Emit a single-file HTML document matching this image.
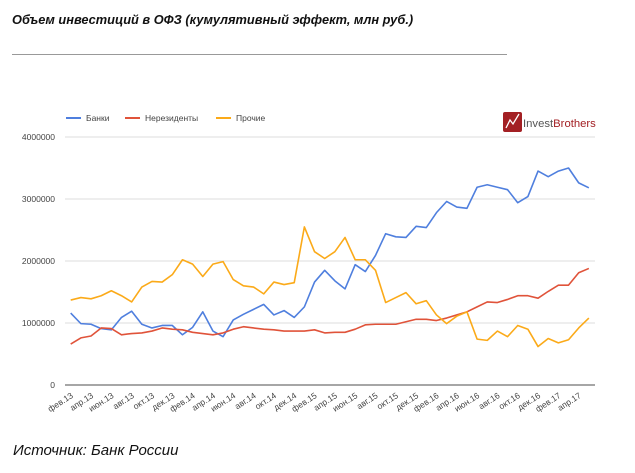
<!DOCTYPE html>
<html><head><meta charset="utf-8"><style>
body{margin:0;background:#fff;width:635px;height:473px;overflow:hidden;position:relative;font-family:"Liberation Sans",Arial,sans-serif}
#title{position:absolute;left:12px;top:12px;font-size:12.8px;font-weight:bold;font-style:italic;color:#111}
#rule{position:absolute;left:12px;top:54px;width:495px;height:1px;background:#999}
#src{position:absolute;left:13px;top:442px;font-size:15px;font-style:italic;color:#111}
svg{position:absolute;left:0;top:0}
</style></head><body>
<div id="title">Объем инвестиций в ОФЗ (кумулятивный эффект, млн руб.)</div>
<div id="rule"></div>
<svg id="chart" width="635" height="473"></svg>
<div id="src">Источник: Банк России</div>
<script>
const months=["янв","фев","мар","апр","май","июн","июл","авг","сен","окт","ноя","дек"];
const yTicks=[0,1000000,2000000,3000000,4000000];
const banks=[1.16,0.99,0.98,0.91,0.89,1.09,1.19,0.98,0.92,0.96,0.96,0.81,0.93,1.18,0.87,0.78,1.05,1.14,1.22,1.30,1.13,1.20,1.09,1.26,1.66,1.85,1.68,1.55,1.94,1.83,2.09,2.44,2.39,2.38,2.56,2.54,2.78,2.96,2.87,2.85,3.19,3.23,3.19,3.15,2.94,3.04,3.45,3.36,3.45,3.50,3.26,3.18];
const nonres=[0.66,0.76,0.79,0.92,0.91,0.81,0.83,0.84,0.87,0.92,0.90,0.89,0.85,0.83,0.81,0.84,0.90,0.94,0.92,0.90,0.89,0.87,0.87,0.87,0.89,0.84,0.85,0.85,0.90,0.97,0.98,0.98,0.98,1.02,1.06,1.06,1.04,1.08,1.13,1.18,1.26,1.34,1.33,1.38,1.44,1.44,1.40,1.51,1.61,1.61,1.81,1.88];
const others=[1.37,1.41,1.39,1.44,1.52,1.44,1.34,1.58,1.67,1.66,1.78,2.02,1.95,1.75,1.95,1.99,1.70,1.60,1.58,1.47,1.66,1.62,1.65,2.55,2.15,2.04,2.15,2.38,2.02,2.02,1.85,1.33,1.41,1.49,1.31,1.36,1.13,0.99,1.11,1.18,0.74,0.72,0.87,0.78,0.96,0.90,0.62,0.75,0.68,0.73,0.92,1.08];
const NS="http://www.w3.org/2000/svg";
const svg=document.getElementById('chart');
const x0=70.7,step=10.16,yBase=385,pxPerM=62;
const xs=i=>x0+i*step;
const ys=v=>yBase-v*pxPerM/1000000;
function mk(t,a){const e=document.createElementNS(NS,t);for(const k in a)e.setAttribute(k,a[k]);svg.appendChild(e);return e;}
yTicks.forEach(v=>{
 const l=mk('line',{x1:65,x2:595,y1:ys(v),y2:ys(v),stroke:v===0?'#888':'#ddd','stroke-width':v===0?1.5:1});
 
 
 const t=mk('text',{x:55,y:ys(v)+3,'text-anchor':'end','font-size':8.5,fill:'#444','font-family':'Liberation Sans, sans-serif'});
 t.textContent=String(v);
 
 
});
for(let i=0;i<banks.length;i+=2){
 const m=(1+i)%12,yr=13+Math.floor((1+i)/12);
 const t=mk('text',{x:xs(i)+3,y:397,'text-anchor':'end','font-size':8.5,fill:'#444','font-family':'Liberation Sans, sans-serif',transform:`rotate(-33 ${xs(i)+3} 397)`});
 t.textContent=months[m]+"."+yr;
 
 
}
[[banks,'#4f7fde','banks-line'],[nonres,'#e0533a','nonresidents-line'],[others,'#fbaa19','others-line']].forEach(([d,c,n])=>{
 const p=mk('polyline',{points:d.map((v,i)=>xs(i)+','+ys(v*1000000)).join(' '),fill:'none',stroke:c,'stroke-width':1.6,'stroke-linejoin':'round'});
 
 
});
[['Банки','#4f7fde',66],['Нерезиденты','#e0533a',125],['Прочие','#fbaa19',216]].forEach(([s,c,x])=>{
 const l=mk('line',{x1:x,x2:x+15,y1:118,y2:118,stroke:c,'stroke-width':2});
 
 
 const t=mk('text',{x:x+20,y:121,'font-size':8.5,fill:'#444','font-family':'Liberation Sans, sans-serif'});
 t.textContent=s;
 
 
});
const lg=mk('rect',{x:503,y:112,width:19,height:20,rx:2,fill:'#a32024'});


mk('polyline',{points:'506,128 510,120 513,124 519,114',fill:'none',stroke:'#fff','stroke-width':1.3});
const lt=mk('text',{x:523,y:127,'font-size':11.3,'font-family':'Liberation Sans, sans-serif',fill:'#a32024'});
lt.innerHTML='<tspan fill="#555">Invest</tspan>Brothers';


</script>
</body></html>
